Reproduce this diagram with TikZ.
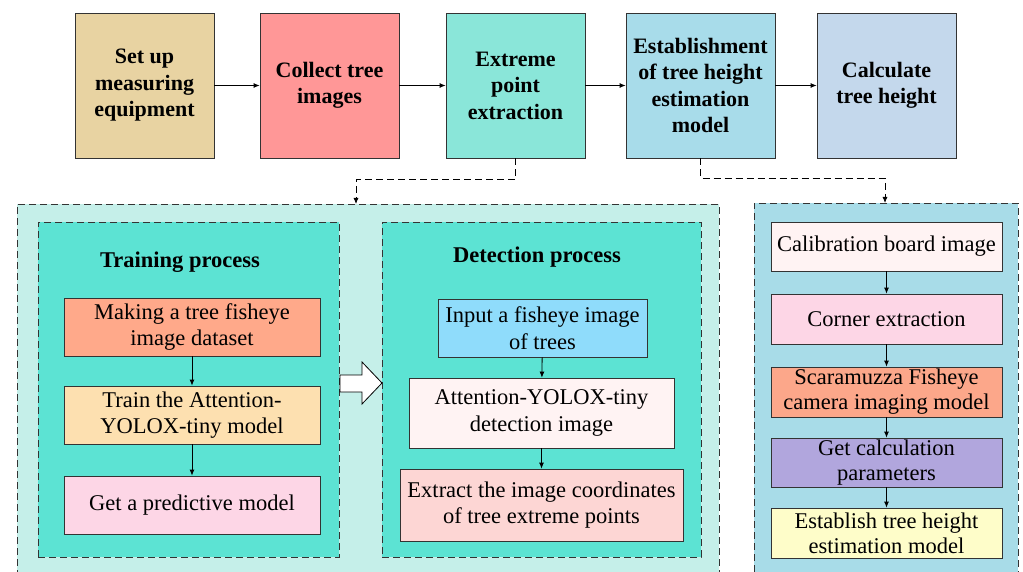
\documentclass[tikz,border=0pt]{standalone}
\usepackage{fontspec}
\setmainfont{Liberation Serif}
\usetikzlibrary{positioning,arrows.meta}
\definecolor{boxline}{HTML}{333333}
\definecolor{setupfill}{HTML}{E8D3A2}
\definecolor{collectfill}{HTML}{FF9797}
\definecolor{extremefill}{HTML}{8AE6D9}
\definecolor{modelfill}{HTML}{A8DCEA}
\definecolor{calcfill}{HTML}{C4D8EC}
\definecolor{yoloframe}{HTML}{C5EFE9}
\definecolor{calibframe}{HTML}{A8DCE8}
\definecolor{processframe}{HTML}{5CE3D3}
\definecolor{salmonfill}{HTML}{FFA98A}
\definecolor{wheatfill}{HTML}{FDE0B0}
\definecolor{pinkfill}{HTML}{FDD6E6}
\definecolor{skyfill}{HTML}{8FDCFB}
\definecolor{snowfill}{HTML}{FFF3F3}
\definecolor{rosefill}{HTML}{FDD6D4}
\definecolor{coralfill}{HTML}{FCA78A}
\definecolor{lavenderfill}{HTML}{B1A6DD}
\definecolor{creamfill}{HTML}{FEFDC9}
\tikzset{
	flow chart/.style={
		x=1pt,y=-1pt,
		line width=0.8pt,
		font=\fontsize{22.5}{26.5}\selectfont
	},
	stagebox/.style={
		draw=boxline,
		inner sep=0pt,
		align=center,
		minimum width=139pt,
		minimum height=145pt,
		font=\fontsize{22}{26.5}\selectfont\bfseries
	},
	frame/.style={
		draw=boxline,
		dash pattern=on 7pt off 4pt,
		inner sep=0pt
	},
	procbox/.style={
		draw=boxline,
		inner sep=0pt,
		align=center
	},
	calibbox/.style={
		procbox,
		minimum width=231pt,
		minimum height=50pt,
		font=\fontsize{22.5}{25}\selectfont
	},
	title/.style={
		font=\fontsize{22.5}{26}\selectfont\bfseries
	},
	flow/.style={
		-{Latex[length=6pt,width=5pt]}
	},
	link/.style={
		flow,
		dash pattern=on 7pt off 4pt
	}
}
\begin{document}
\begin{tikzpicture}[flow chart]
	\clip (0,0) rectangle (1023,572);
	% frames
	\node[frame,fill=yoloframe,minimum width=702pt,minimum height=386pt] (yolo) at (368,397) {};
	\node[frame,fill=calibframe,minimum width=264pt,minimum height=386pt] (calib) at (886,396) {};
	\node[frame,fill=processframe,minimum width=301pt,minimum height=335pt] (train) at (188.5,389.5) {};
	\node[frame,fill=processframe,minimum width=319pt,minimum height=335pt] (detect) at (541.5,389.5) {};
	
	% main steps
	\node[stagebox,fill=setupfill] (setup) at (144.5,85.5) {Set up\\measuring\\equipment};
	\node[stagebox,fill=collectfill] (collect) at (329.5,85.5) {Collect tree\\images};
	\node[stagebox,fill=extremefill] (extreme) at (515.5,85.5) {Extreme\\point\\extraction};
	\node[stagebox,fill=modelfill,minimum width=149pt] (model) at (700.5,85.5) {Establishment\\of tree height\\estimation\\model};
	\node[stagebox,fill=calcfill] (calc) at (886.5,85.5) {Calculate\\tree height};
	\draw[flow] (setup) -- (collect);
	\draw[flow] (collect) -- (extreme);
	\draw[flow] (extreme) -- (model);
	\draw[flow] (model) -- (calc);
	
	\coordinate (toyolo) at (356,204);
	\coordinate (tocalib) at (885,203);
	\draw[link] (extreme.south) -- ++(0,21) -| (toyolo);
	\draw[link] (model.south) -- ++(0,20) -| (tocalib);
	
	% training
	\node[title] (traintitle) at (180,262) {Training process};
	\node[procbox,fill=salmonfill,minimum width=256pt,minimum height=58pt] (dataset) at (192,327) {Making a tree fisheye\\image dataset};
	\node[procbox,fill=wheatfill,minimum width=256pt,minimum height=58pt] (trainnet) at (192,415) {Train the Attention-\\YOLOX-tiny model};
	\node[procbox,fill=pinkfill,minimum width=256pt,minimum height=58pt] (predict) at (192,505) {Get a predictive model};
	\draw[flow] (dataset) -- (trainnet);
	\draw[flow] (trainnet) -- (predict);
	
	\draw[fill=white] (340,375) -- (362,375) -- (362,362) -- (382,383) -- (362,404) -- (362,392) -- (340,392) -- cycle;
	
	% detection
	\node[title] (detecttitle) at (537,257) {Detection process};
	\node[procbox,fill=skyfill,minimum width=209pt,minimum height=58pt] (input) at (542.5,328) {Input a fisheye image\\of trees};
	\node[procbox,fill=snowfill,minimum width=265pt,minimum height=70pt] (attn) at (541.5,413) {Attention-YOLOX-tiny\\detection image};
	\node[procbox,fill=rosefill,minimum width=283pt,minimum height=72pt] (coords) at (541.5,505) {Extract the image coordinates\\of tree extreme points};
	\draw[flow] (input) -- (attn);
	\draw[flow] (attn) -- (coords);
	
	% calibration
	\node[calibbox,fill=snowfill,minimum height=49pt] (board) at (886.5,246.5) {Calibration board image};
	\node[calibbox,fill=pinkfill] (corner) at (886.5,319) {Corner extraction};
	\node[calibbox,fill=coralfill] (scara) at (886.5,392) {Scaramuzza Fisheye\\camera imaging model};
	\node[calibbox,fill=lavenderfill,minimum height=49pt] (params) at (886.5,462.5) {Get calculation\\parameters};
	\node[calibbox,fill=creamfill] (establish) at (886.5,533) {Establish tree height\\estimation model};
	\draw[flow] (board) -- (corner);
	\draw[flow] (corner) -- (scara);
	\draw[flow] (scara) -- (params);
	\draw[flow] (params) -- (establish);
\end{tikzpicture}
\end{document}
